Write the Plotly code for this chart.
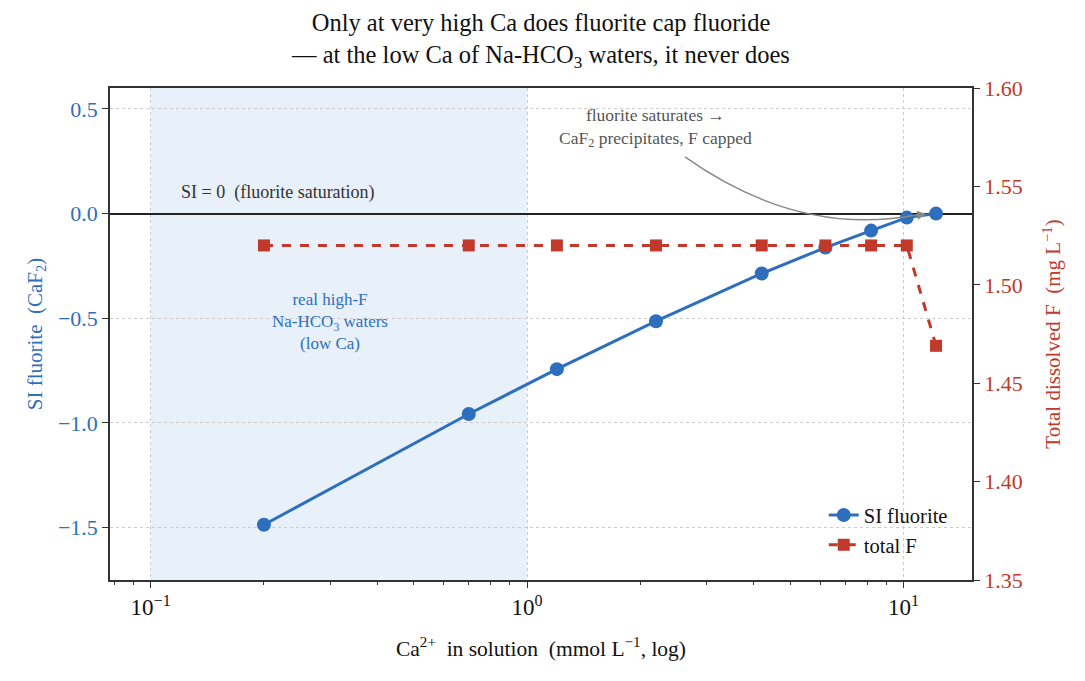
import math
import plotly.graph_objects as go

# Data
ca_mmol = [0.2, 0.7, 1.2, 2.2, 4.2, 6.2, 8.2, 10.2, 12.2]
si_fluorite = [-1.486, -0.957, -0.743, -0.514, -0.286, -0.162, -0.081, -0.019, 0.0]
total_f = [1.52, 1.52, 1.52, 1.52, 1.52, 1.52, 1.52, 1.52, 1.469]

low_ca_band = [0.1, 1.0]
x_ticks = [0.1, 1, 10]
x_ticktext = ["10<sup>−1</sup>", "10<sup>0</sup>", "10<sup>1</sup>"]
x_minor = [0.08, 0.09, 0.2, 0.3, 0.4, 0.5, 0.6, 0.7, 0.8, 0.9,
           2, 3, 4, 5, 6, 7, 8, 9]
si_ticks = [-1.5, -1.0, -0.5, 0.0, 0.5]
si_ticktext = ["−1.5", "−1.0", "−0.5", "0.0", "0.5"]

BLUE = "#2e6fbd"
RED = "#c0392b"
FONT = "Liberation Serif"
AXIS = "#333333"
SP = "\u00a0 "  # keep double spaces

fig = go.Figure()

fig.add_vrect(x0=low_ca_band[0], x1=low_ca_band[1], fillcolor="#e8f0fa",
              line_width=0, layer="below")

fig.add_trace(go.Scatter(
    x=ca_mmol, y=si_fluorite, mode="lines+markers", name="SI fluorite",
    line=dict(color=BLUE, width=3),
    marker=dict(symbol="circle", size=14, color=BLUE),
))

fig.add_trace(go.Scatter(
    x=ca_mmol, y=total_f, mode="lines+markers", name="total F", yaxis="y2",
    line=dict(color=RED, width=3, dash="dash"),
    marker=dict(symbol="square", size=12, color=RED),
))

# labels inside the plot
fig.add_annotation(x=math.log10(0.119), y=0.1, xref="x", yref="y",
                   text="SI = 0" + SP + "(fluorite saturation)", showarrow=False,
                   xanchor="left", yanchor="middle",
                   font=dict(family=FONT, size=18, color="#333333"))
fig.add_annotation(x=math.log10(0.3), y=-0.515, xref="x", yref="y",
                   text="real high-F<br>Na-HCO<sub>3</sub> waters<br>(low Ca)",
                   showarrow=False, align="center",
                   font=dict(family=FONT, size=17, color=BLUE))
fig.add_annotation(x=math.log10(2.2), y=0.41, xref="x", yref="y",
                   text="fluorite saturates →<br>CaF<sub>2</sub> precipitates, F capped",
                   showarrow=False, align="center",
                   font=dict(family=FONT, size=17.5, color="#555555"))

# curved arrow to the saturation point
fig.add_shape(type="path", xref="paper", yref="paper",
              path="M 0.667 0.860 Q 0.800 0.695 0.938 0.743",
              line=dict(color="#888888", width=1.4))
fig.add_annotation(x=0.947, y=0.744, xref="paper", yref="paper", text="",
                   showarrow=True, ax=-14, ay=2, arrowhead=2, arrowsize=1.3,
                   arrowwidth=1.4, arrowcolor="#888888")

fig.update_layout(
    width=1069, height=665,
    margin=dict(l=102, r=105, t=80, b=93),
    paper_bgcolor="white", plot_bgcolor="white",
    font=dict(family=FONT, size=21, color="#111111"),
    title=dict(
        text="Only at very high Ca does fluorite cap fluoride<br>— at the low Ca of Na-HCO<sub>3</sub> waters, it never does",
        x=0.5, xanchor="center", xref="paper", yref="container",
        y=0.965, yanchor="middle",
        font=dict(family=FONT, size=24.5, color="#111111"),
    ),
    xaxis=dict(
        type="log", range=[math.log10(0.078), math.log10(15.2)],
        tickvals=x_ticks, ticktext=x_ticktext,
        ticks="outside", ticklen=6, tickwidth=1.3, tickcolor=AXIS,
        minor=dict(tickvals=x_minor, ticks="outside", ticklen=3,
                   tickcolor=AXIS, showgrid=False),
        showline=True, linecolor=AXIS, linewidth=1.5, mirror=True,
        showgrid=True, gridcolor="#cccccc", griddash="dot", gridwidth=1,
        tickfont=dict(family=FONT, size=23, color="#111111"),
        title=dict(text="Ca<sup>2+</sup>" + SP + "in solution" + SP + "(mmol L<sup>−1</sup>, log)",
                   font=dict(family=FONT, size=21.5, color="#111111"), standoff=22),
        zeroline=False,
    ),
    yaxis=dict(
        range=[-1.75, 0.6], tickvals=si_ticks, ticktext=si_ticktext,
        ticks="outside", ticklen=6, tickwidth=1.3, tickcolor=AXIS,
        showline=True, linecolor=AXIS, linewidth=1.5,
        showgrid=True, gridcolor="#cccccc", griddash="dot", gridwidth=1,
        # SI = 0 saturation line
        zeroline=True, zerolinecolor="#222222", zerolinewidth=1.6,
        tickfont=dict(family=FONT, size=22, color=BLUE),
        title=dict(text="SI fluorite" + SP + "(CaF<sub>2</sub>)",
                   font=dict(family=FONT, size=21, color=BLUE), standoff=10),
    ),
    yaxis2=dict(
        range=[1.35, 1.60], dtick=0.05, tickformat=".2f",
        overlaying="y", side="right", anchor="x",
        ticks="outside", ticklen=6, tickwidth=1.3, tickcolor=AXIS,
        showline=True, linecolor=AXIS, linewidth=1.5,
        showgrid=False, zeroline=False,
        tickfont=dict(family=FONT, size=22, color=RED),
        title=dict(text="Total dissolved F" + SP + "(mg L<sup>−1</sup>)",
                   font=dict(family=FONT, size=21, color=RED), standoff=24),
    ),
    legend=dict(x=0.828, y=0.03, xanchor="left", yanchor="bottom",
                bgcolor="rgba(255,255,255,0)", borderwidth=0,
                font=dict(family=FONT, size=20.5, color="#111111")),
    showlegend=True,
)

fig.write_html("out.html")
